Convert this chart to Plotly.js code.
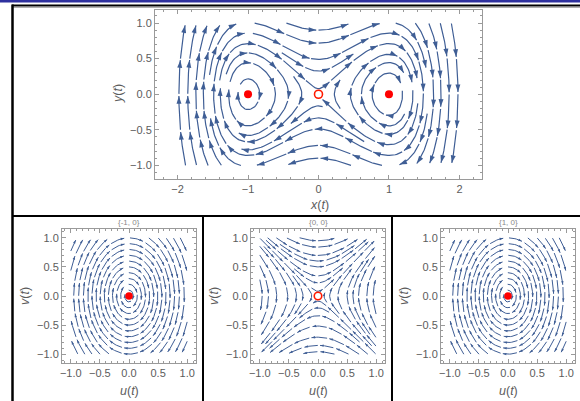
<!DOCTYPE html>
<html>
<head>
<meta charset="utf-8">
<script src="https://cdn.plot.ly/plotly-3.0.1.min.js"></script>
<style>
  html, body { margin: 0; padding: 0; background: #fff; }
  #chart { width: 580px; height: 401px; }
</style>
</head>
<body>
<div id="chart"></div>
<script>
// Phase portrait of x' = y, y' = c1*x + c3*x^3 and its linearisations at the equilibria.
const cubicCoeffs = [1, -1];                 // [c1, c3]
const equilibriaX = [-1, 0, 1];
const equilibriaY = [0, 0, 0];
const equilibriumFilled = [true, false, true];
const panelTitles = ['{-1, 0}', '{0, 0}', '{1, 0}'];
const topStreamBox = [-2, 2, -1, 1];         // StreamPlot region of the full system
const smallStreamBox = [-1, 1, -1, 1];       // region of each linearised plot
const topSeed = [0, 0.9];
const smallSeed = [0, 0.5];

const LINE_COLOR = '#3f5e95';
const FRAME = '#9a9a9a';
const LABEL = '#5c5c5c';
const W = 580, H = 401;

// Vector fields
const fullField = (x, y) => [y, cubicCoeffs[0] * x + cubicCoeffs[1] * x * x * x];
const linearField = k => {
  const x = equilibriaX[k];
  const c = cubicCoeffs[0] + 3 * cubicCoeffs[1] * x * x;   // d(y')/dx at the equilibrium
  return (u, v) => [v, c * u];
};

// Evenly spaced streamlines (Jobard-Lefer style) computed in pixel space.
// holes: [x, y, radiusPx] discs around equilibria that streamlines keep out of.
function traceStreamlines(field, box, sx, sy, dsep, seed, holes) {
  const [x0, x1, y0, y1] = box;
  const Wp = (x1 - x0) * sx, Hp = (y1 - y0) * sy;
  const h = 0.75, dtest = 0.5 * dsep, selfSkip = 2.5 * dsep, minLen = 2 * dsep;
  const cs = dsep, gw = Math.ceil(Wp / cs) + 1, gh = Math.ceil(Hp / cs) + 1;
  const grid = []; for (let i = 0; i < gw * gh; i++) grid.push([]);
  const holesPx = holes.map(o => [(o[0] - x0) * sx, (o[1] - y0) * sy, o[2]]);
  const lines = [];
  const cellOf = (X, Y) => Math.min(gh - 1, Math.max(0, Math.floor(Y / cs))) * gw +
                           Math.min(gw - 1, Math.max(0, Math.floor(X / cs)));
  function dir(X, Y) {
    const v = field(x0 + X / sx, y0 + Y / sy);
    const vx = v[0] * sx, vy = v[1] * sy, m = Math.hypot(vx, vy);
    return m < 1e-7 ? null : [vx / m, vy / m];
  }
  const inside = (X, Y) => X >= 0 && X <= Wp && Y >= 0 && Y <= Hp &&
    holesPx.every(o => Math.hypot(X - o[0], Y - o[1]) > o[2]);
  function tooClose(X, Y, d, id, arc) {
    const ci = Math.floor(X / cs), cj = Math.floor(Y / cs);
    for (let j = cj - 1; j <= cj + 1; j++) for (let i = ci - 1; i <= ci + 1; i++) {
      if (i < 0 || j < 0 || i >= gw || j >= gh) continue;
      for (const p of grid[j * gw + i]) {
        if (p.id === id && Math.abs(p.arc - arc) < selfSkip) continue;
        const dx = p.X - X, dy = p.Y - Y;
        if (dx * dx + dy * dy < d * d) return true;
      }
    }
    return false;
  }
  function rk4(X, Y, s) {
    const k1 = dir(X, Y); if (!k1) return null;
    const k2 = dir(X + 0.5 * h * s * k1[0], Y + 0.5 * h * s * k1[1]); if (!k2) return null;
    const k3 = dir(X + 0.5 * h * s * k2[0], Y + 0.5 * h * s * k2[1]); if (!k3) return null;
    const k4 = dir(X + h * s * k3[0], Y + h * s * k3[1]); if (!k4) return null;
    return [X + h * s * (k1[0] + 2 * k2[0] + 2 * k3[0] + k4[0]) / 6,
            Y + h * s * (k1[1] + 2 * k2[1] + 2 * k3[1] + k4[1]) / 6];
  }
  let nextId = 0;
  function grow(SX, SY) {
    if (!inside(SX, SY) || !dir(SX, SY) || tooClose(SX, SY, 0.95 * dsep, -1, 0)) return null;
    const id = nextId++;
    const start = { X: SX, Y: SY, id, arc: 0 };
    grid[cellOf(SX, SY)].push(start);
    const fwd = [], bwd = [];
    for (const s of [1, -1]) {
      let X = SX, Y = SY, arc = 0, pdx = 0, pdy = 0;
      const out = s > 0 ? fwd : bwd;
      for (let n = 0; n < 8000; n++) {
        const q = rk4(X, Y, s); if (!q) break;
        if (!inside(q[0], q[1])) break;
        const dx = q[0] - X, dy = q[1] - Y;
        if (n > 0 && dx * pdx + dy * pdy < 0.3 * h * h) break;
        arc += h;
        if (tooClose(q[0], q[1], dtest, id, s * arc)) break;
        const p = { X: q[0], Y: q[1], id, arc: s * arc };
        grid[cellOf(p.X, p.Y)].push(p); out.push(p);
        X = q[0]; Y = q[1]; pdx = dx; pdy = dy;
      }
    }
    const pts = bwd.reverse().concat([start], fwd);
    if ((pts.length - 1) * h < minLen) {
      for (const p of pts) { const c = cellOf(p.X, p.Y); grid[c] = grid[c].filter(r => r.id !== id); }
      return null;
    }
    lines.push(pts);
    return pts;
  }
  const queue = []; let qi = 0;
  function pushSeeds(pts) {
    const step = Math.max(1, Math.round(0.5 * dsep / h));
    for (let i = 0; i < pts.length; i += step) {
      const a = pts[Math.max(0, i - 1)], b = pts[Math.min(pts.length - 1, i + 1)];
      let tx = b.X - a.X, ty = b.Y - a.Y; const m = Math.hypot(tx, ty);
      if (!m) continue; tx /= m; ty /= m;
      queue.push([pts[i].X - ty * dsep, pts[i].Y + tx * dsep]);
      queue.push([pts[i].X + ty * dsep, pts[i].Y - tx * dsep]);
    }
  }
  function drain() { while (qi < queue.length) { const c = queue[qi++]; const l = grow(c[0], c[1]); if (l) pushSeeds(l); } }
  const f = grow((seed[0] - x0) * sx, (seed[1] - y0) * sy);
  if (f) pushSeeds(f);
  drain();
  for (let Y = dsep / 2; Y < Hp; Y += dsep / 2)
    for (let X = dsep / 2; X < Wp; X += dsep / 2) { const l = grow(X, Y); if (l) { pushSeeds(l); drain(); } }
  return { lines, h, x0, y0 };
}

// Break streamlines into arrowed pieces and build the Plotly traces
function streamTraces(field, box, sx, sy, dsep, seed, holes, segLen, gap, xa, ya, lw, arrowSize) {
  const res = traceStreamlines(field, box, sx, sy, dsep, seed, holes);
  const h = res.h;
  const lx = [], ly = [], ax = [], ay = [], ang = [];
  const toX = p => res.x0 + p.X / sx, toY = p => res.y0 + p.Y / sy;
  for (const pts of res.lines) {
    const L = (pts.length - 1) * h;
    const n = Math.max(1, Math.round(L / (segLen + gap)));
    const period = L / n;
    for (let k = 0; k < n; k++) {
      const i0 = Math.round(k * period / h);
      const i1 = Math.min(pts.length - 1, Math.round(((k + 1) * period - gap) / h));
      if (i1 - i0 < 3) continue;
      for (let i = i0; i <= i1; i += 2) { lx.push(toX(pts[i])); ly.push(toY(pts[i])); }
      lx.push(toX(pts[i1])); ly.push(toY(pts[i1]));
      lx.push(null); ly.push(null);
      const a = pts[i1 - 3], b = pts[i1];
      ax.push(toX(b)); ay.push(toY(b));
      ang.push(Math.atan2(b.X - a.X, b.Y - a.Y) * 180 / Math.PI);
    }
  }
  return [
    { type: 'scatter', mode: 'lines', x: lx, y: ly, xaxis: xa, yaxis: ya, hoverinfo: 'skip',
      line: { color: LINE_COLOR, width: lw }, showlegend: false },
    { type: 'scatter', mode: 'markers', x: ax, y: ay, xaxis: xa, yaxis: ya, hoverinfo: 'skip',
      marker: { symbol: 'arrow', size: arrowSize, angle: ang, color: LINE_COLOR, line: { width: 0 } },
      showlegend: false }
  ];
}

function equilibriumTraces(xs, ys, filled, xa, ya, size) {
  const fx = [], fy = [], ox = [], oy = [];
  xs.forEach((x, i) => { if (filled[i]) { fx.push(x); fy.push(ys[i]); } else { ox.push(x); oy.push(ys[i]); } });
  return [
    { type: 'scatter', mode: 'markers', x: fx, y: fy, xaxis: xa, yaxis: ya, hoverinfo: 'skip', showlegend: false,
      marker: { symbol: 'circle', size: size, color: '#ff0000', line: { width: 0 } } },
    { type: 'scatter', mode: 'markers', x: ox, y: oy, xaxis: xa, yaxis: ya, hoverinfo: 'skip', showlegend: false,
      marker: { symbol: 'circle', size: size, color: '#ffffff', line: { color: '#ff1a00', width: 1.6 } } }
  ];
}

// Panel geometry in pixels
const topGeom = { l: 155, r: 482, t: 9.5, b: 179, xr: [-2.32, 2.32], yr: [-1.19, 1.19] };
const smallGeom = [
  { l: 62, r: 196 }, { l: 251, r: 385 }, { l: 441, r: 575 }
].map(g => Object.assign(g, { t: 229, b: 363, xr: [-1.15, 1.15], yr: [-1.15, 1.15] }));
const scale = g => [(g.r - g.l) / (g.xr[1] - g.xr[0]), (g.b - g.t) / (g.yr[1] - g.yr[0])];

function axis(g, isX, anchor, dtick, minorDtick, fmt) {
  return {
    domain: isX ? [g.l / W, g.r / W] : [1 - g.b / H, 1 - g.t / H],
    range: isX ? g.xr : g.yr, anchor: anchor,
    tickmode: 'linear', tick0: 0, dtick: dtick, tickformat: fmt,
    ticks: 'inside', ticklen: 4, tickwidth: 1, tickcolor: FRAME,
    minor: { ticks: 'inside', ticklen: 2, tickwidth: 1, tickcolor: FRAME, tick0: 0, dtick: minorDtick, showgrid: false },
    showline: true, linecolor: FRAME, linewidth: 1, mirror: 'ticks',
    showgrid: false, zeroline: false, fixedrange: true,
    tickfont: { family: 'Liberation Sans, Arial, sans-serif', size: 11, color: LABEL }
  };
}

const traces = [];
const [tsx, tsy] = scale(topGeom);
const topHoles = equilibriaX.map((x, i) => [x, equilibriaY[i], equilibriumFilled[i] ? 9 : 4]);
traces.push(...streamTraces(fullField, topStreamBox, tsx, tsy, 10.5, topSeed, topHoles, 30, 2, 'x', 'y', 1.2, 8));
traces.push(...equilibriumTraces(equilibriaX, equilibriaY, equilibriumFilled, 'x', 'y', 8));

const layout = {
  width: W, height: H, margin: { l: 0, r: 0, t: 0, b: 0 },
  paper_bgcolor: '#ffffff', plot_bgcolor: '#ffffff', showlegend: false,
  xaxis: axis(topGeom, true, 'y', 1, 0.2, 'd'),
  yaxis: axis(topGeom, false, 'x', 0.5, 0.1, '.1f'),
  annotations: [], shapes: []
};

const titleFont = { family: 'Liberation Sans, Arial, sans-serif', size: 12.5, color: LABEL };
const ann = (x, y, text, font, angle) => ({
  xref: 'paper', yref: 'paper', x: x / W, y: 1 - y / H, xanchor: 'center', yanchor: 'middle',
  text: text, showarrow: false, font: font, textangle: angle || 0
});
layout.annotations.push(ann(319, 205, '<i>x</i>(<i>t</i>)', titleFont));
layout.annotations.push(ann(118, 94, '<i>y</i>(<i>t</i>)', titleFont, -90));

smallGeom.forEach((g, k) => {
  const n = k + 2, xa = 'x' + n, ya = 'y' + n;
  const [sx, sy] = scale(g);
  const holes = [[0, 0, equilibriumFilled[k] ? 4 : 3]];
  traces.push(...streamTraces(linearField(k), smallStreamBox, sx, sy, 5.8, smallSeed, holes, 14, 2.5, xa, ya, 1, 3.8));
  traces.push(...equilibriumTraces([0], [0], [equilibriumFilled[k]], xa, ya, 7.5));
  layout['xaxis' + n] = axis(g, true, ya, 0.5, 0.1, '.1f');
  layout['yaxis' + n] = axis(g, false, xa, 0.5, 0.1, '.1f');
  const cx = (g.l + g.r) / 2, cy = (g.t + g.b) / 2;
  layout.annotations.push(ann(cx, 222, panelTitles[k], { family: 'Liberation Sans, Arial, sans-serif', size: 8, color: '#8a8a8a' }));
  layout.annotations.push(ann(cx, 391, '<i>u</i>(<i>t</i>)', titleFont));
  layout.annotations.push(ann(g.l - 37, cy, '<i>v</i>(<i>t</i>)', titleFont, -90));
});

// Frame of the grid
const pline = (x0, y0, x1, y1, w, c) => ({
  type: 'line', xref: 'paper', yref: 'paper', x0: x0 / W, y0: 1 - y0 / H, x1: x1 / W, y1: 1 - y1 / H,
  line: { color: c || '#000', width: w }
});
layout.shapes.push({ type: 'rect', xref: 'paper', yref: 'paper', x0: 0, x1: 1, y0: 1 - 2.5 / H, y1: 1,
  fillcolor: '#2e309e', line: { width: 0 } });
layout.shapes.push(pline(12, 5.5, 580, 5.5, 2));
layout.shapes.push(pline(12, 7.5, 580, 7.5, 1, '#b0b0b0'));
layout.shapes.push(pline(12.5, 4.5, 12.5, 401, 2.5));
layout.shapes.push(pline(12, 216, 580, 216, 2));
layout.shapes.push(pline(203, 216, 203, 401, 2));
layout.shapes.push(pline(392, 216, 392, 401, 2));

Plotly.newPlot('chart', traces, layout, { staticPlot: true, displayModeBar: false });
</script>
</body>
</html>
